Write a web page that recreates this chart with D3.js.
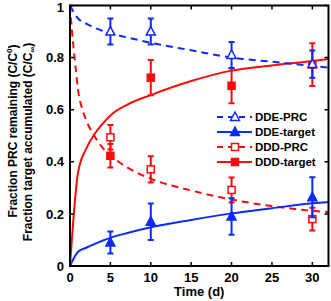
<!DOCTYPE html>
<html>
<head>
<meta charset="utf-8">
<script src="https://cdn.jsdelivr.net/npm/d3@7"></script>
<style>
  body { margin: 0; background: #fff; }
  text { font-family: Arial, "Liberation Sans", Helvetica, sans-serif; }
</style>
</head>
<body>
<div id="chart"></div>
<script>
// measured points (days)
const sampleDays = [5, 10, 20, 30];

const ddePrc = [0.90, 0.90, 0.81, 0.775];
const ddePrcErr = [0.05, 0.05, 0.05, 0.052];
const ddeTarget = [0.09, 0.17, 0.19, 0.264];
const ddeTargetErr = [0.042, 0.07, 0.07, 0.077];
const dddPrc = [0.494, 0.371, 0.292, 0.18];
const dddPrcErr = [0.047, 0.05, 0.048, 0.044];
const dddTarget = [0.423, 0.723, 0.692, 0.773];
const dddTargetErr = [0.045, 0.068, 0.067, 0.082];

// model curves
const fitDays = [0, 1, 2, 3, 4, 5, 7, 10, 15, 20, 25, 30, 32];
const ddePrcFit = [1, 0.95, 0.93, 0.915, 0.903, 0.893, 0.878, 0.857, 0.828, 0.80, 0.784, 0.768, 0.762];
const ddeTargetFit = [0, 0.055, 0.07, 0.084, 0.097, 0.108, 0.126, 0.149, 0.177, 0.202, 0.222, 0.241, 0.246];
const dddTargetFit = [0, 0.36, 0.45, 0.505, 0.545, 0.578, 0.618, 0.656, 0.71, 0.75, 0.77, 0.787, 0.795];
const dddPrcDays = [0, 0.25, 0.5, 0.75, 1, 1.5, 2, 3, 4, 5, 7, 10, 15, 20, 25, 30, 32];
const dddPrcFit = [1, 0.9, 0.82, 0.745, 0.675, 0.605, 0.56, 0.5, 0.455, 0.425, 0.38, 0.335, 0.29, 0.255, 0.23, 0.212, 0.207];

const xTicks = [0, 5, 10, 15, 20, 25, 30];
const yTicks = [0, 0.2, 0.4, 0.6, 0.8, 1];

const width = 331, height = 301;
const blue = "#0a2aff", red = "#ff0a0a";

const svg = d3.select("#chart").append("svg")
    .attr("width", width)
    .attr("height", height);

const x = d3.scaleLinear().domain([0, 32]).range([70, 328.5]);
const y = d3.scaleLinear().domain([0, 1]).range([266, 5.5]);

const line = d3.line()
    .x(d => x(d[0]))
    .y(d => y(d[1]))
    .curve(d3.curveMonotoneX);

svg.append("clipPath").attr("id", "plot")
    .append("rect")
    .attr("x", x(0)).attr("y", y(1))
    .attr("width", x(32) - x(0)).attr("height", y(0) - y(1));

// series definitions
const series = [
    { name: "DDD-PRC", color: red, dash: "7,5", days: dddPrcDays, fit: dddPrcFit, vals: dddPrc, err: dddPrcErr, shape: "square", filled: false },
    { name: "DDD-target", color: red, dash: null, days: fitDays, fit: dddTargetFit, vals: dddTarget, err: dddTargetErr, shape: "square", filled: true },
    { name: "DDE-PRC", color: blue, dash: "7,5", days: fitDays, fit: ddePrcFit, vals: ddePrc, err: ddePrcErr, shape: "triangle", filled: false },
    { name: "DDE-target", color: blue, dash: null, days: fitDays, fit: ddeTargetFit, vals: ddeTarget, err: ddeTargetErr, shape: "triangle", filled: true }
];

function marker(g, s, cx, cy) {
    if (s.shape === "square") {
        g.append("rect")
            .attr("x", cx - 3.5).attr("y", cy - 3.5)
            .attr("width", 7).attr("height", 7)
            .attr("fill", s.filled ? s.color : "#fff")
            .attr("stroke", s.color).attr("stroke-width", 1.5);
    } else {
        g.append("path")
            .attr("d", `M${cx},${cy - 5}L${cx + 4.5},${cy + 3.5}L${cx - 4.5},${cy + 3.5}Z`)
            .attr("fill", s.filled ? s.color : "#fff")
            .attr("stroke", s.color).attr("stroke-width", 1.5);
    }
}

// fitted curves
series.forEach(s => {
    svg.append("path")
        .datum(s.days.map((d, i) => [d, s.fit[i]]))
        .attr("clip-path", "url(#plot)")
        .attr("d", line)
        .attr("fill", "none")
        .attr("stroke", s.color)
        .attr("stroke-width", 2)
        .attr("stroke-dasharray", s.dash);
});

// error bars + markers
series.forEach(s => {
    const g = svg.append("g");
    sampleDays.forEach((d, i) => {
        const cx = x(d), lo = y(s.vals[i] - s.err[i]), hi = y(s.vals[i] + s.err[i]);
        g.append("path")
            .attr("d", `M${cx},${lo}V${hi}M${cx - 3},${lo}H${cx + 3}M${cx - 3},${hi}H${cx + 3}`)
            .attr("fill", "none")
            .attr("stroke", s.color)
            .attr("stroke-width", 2);
        marker(g, s, cx, y(s.vals[i]));
    });
});

// axes box
const frame = svg.append("g").attr("stroke", "#000").attr("fill", "none");
frame.append("rect")
    .attr("x", x(0)).attr("y", y(1))
    .attr("width", x(32) - x(0)).attr("height", y(0) - y(1))
    .attr("stroke-width", 2);

xTicks.forEach(t => {
    frame.append("path").attr("d", `M${x(t)},${y(0)}v-4M${x(t)},${y(1)}v4`).attr("stroke-width", 1.5);
});
yTicks.forEach(t => {
    frame.append("path").attr("d", `M${x(0)},${y(t)}h4M${x(32)},${y(t)}h-4`).attr("stroke-width", 1.5);
});

svg.append("g").selectAll("text")
    .data(xTicks).enter().append("text")
    .attr("x", d => x(d)).attr("y", 282)
    .attr("text-anchor", "middle")
    .attr("font-size", 13).attr("font-weight", "bold")
    .text(d => d);

// top label nudged so it is not clipped by the window edge
svg.append("g").selectAll("text")
    .data(yTicks).enter().append("text")
    .attr("x", 64).attr("y", d => Math.max(y(d), 7)).attr("dy", "0.36em")
    .attr("text-anchor", "end")
    .attr("font-size", 13).attr("font-weight", "bold")
    .text(d => d);

svg.append("text")
    .attr("x", (x(0) + x(32)) / 2).attr("y", 296)
    .attr("text-anchor", "middle")
    .attr("font-size", 13).attr("font-weight", "bold")
    .text("Time (d)");

// y label, two lines
const yl1 = svg.append("text")
    .attr("transform", "translate(17,131) rotate(-90)")
    .attr("text-anchor", "middle")
    .attr("font-size", 12).attr("font-weight", "bold");
yl1.append("tspan").text("Fraction PRC remaining (C/C");
yl1.append("tspan").attr("font-size", 8).attr("dy", -5).text("0");
yl1.append("tspan").attr("dy", 5).text(")");

const yl2 = svg.append("text")
    .attr("transform", "translate(32,142) rotate(-90)")
    .attr("text-anchor", "middle")
    .attr("font-size", 12).attr("font-weight", "bold");
yl2.append("tspan").text("Fraction target accumulated (C/C");
yl2.append("tspan").attr("font-size", 8).attr("dy", 3).text("∞");
yl2.append("tspan").attr("dy", -3).text(")");

// legend (no box)
const legendOrder = [2, 3, 0, 1];
legendOrder.forEach((k, i) => {
    const s = series[k];
    const ly = 117 + i * 15;
    const g = svg.append("g");
    g.append("line")
        .attr("x1", 217).attr("x2", 252).attr("y1", ly).attr("y2", ly)
        .attr("stroke", s.color).attr("stroke-width", 2)
        .attr("stroke-dasharray", s.dash ? "6,5" : null);
    marker(g, s, 235, ly);
    g.append("text")
        .attr("x", 255).attr("y", ly).attr("dy", "0.36em")
        .attr("font-size", 11.5).attr("font-weight", "bold")
        .text(s.name);
});
</script>
</body>
</html>
